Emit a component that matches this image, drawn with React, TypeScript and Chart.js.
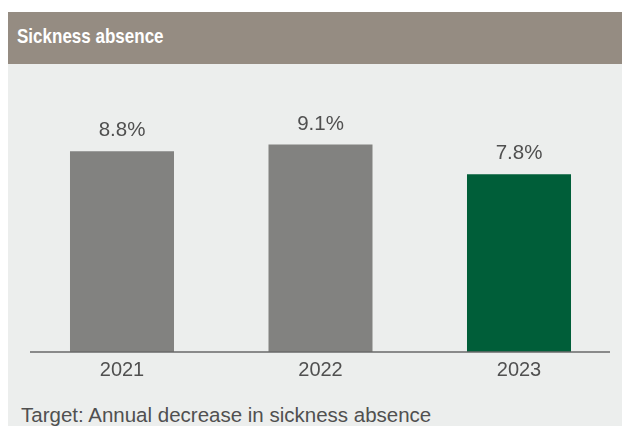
import React, { useEffect, useRef } from "react";
import { Chart, registerables } from "chart.js";

Chart.register(...registerables);

const categories: string[] = ["2021", "2022", "2023"];
const values: number[] = [8.8, 9.1, 7.8];
const valueLabels: string[] = ["8.8%", "9.1%", "7.8%"];
const barColors: string[] = ["#828280", "#828280", "#005e39"];
const yMax = 10;

const FONT = '"Liberation Sans", Arial, Helvetica, sans-serif';
const TEXT_COLOR = "#505050";

const valueLabelPlugin = {
  id: "valueLabels",
  afterDatasetsDraw(chart: any) {
    const { ctx, chartArea } = chart;
    const meta = chart.getDatasetMeta(0);
    ctx.save();
    // axis line
    ctx.strokeStyle = "#686868";
    ctx.lineWidth = 1.6;
    ctx.beginPath();
    ctx.moveTo(chartArea.left + 7.25, chartArea.bottom);
    ctx.lineTo(chartArea.right - 8.25, chartArea.bottom);
    ctx.stroke();
    // value labels
    ctx.fillStyle = TEXT_COLOR;
    ctx.font = `20.5px ${FONT}`;
    ctx.textAlign = "center";
    ctx.textBaseline = "alphabetic";
    meta.data.forEach((bar: any, i: number) => {
      ctx.fillText(valueLabels[i], bar.x, bar.y - 15);
    });
    ctx.restore();
  },
};

function BarChart() {
  const ref = useRef<HTMLCanvasElement | null>(null);
  useEffect(() => {
    if (!ref.current) return;
    const chart = new Chart(ref.current, {
      type: "bar",
      data: {
        labels: categories,
        datasets: [
          {
            data: values,
            backgroundColor: barColors,
            borderWidth: 0,
            barPercentage: 0.524,
            categoryPercentage: 1,
          },
        ],
      },
      options: {
        animation: false,
        responsive: true,
        maintainAspectRatio: false,
        layout: { padding: { left: 14.75, right: 3.75, top: 60, bottom: 0 } },
        plugins: {
          legend: { display: false },
          tooltip: { enabled: false },
          title: { display: false },
        },
        scales: {
          x: {
            grid: { display: false, drawTicks: false },
            border: { display: false },
            ticks: {
              color: TEXT_COLOR,
              font: { family: FONT, size: 20 },
              padding: 6,
            },
          },
          y: {
            display: false,
            min: 0,
            max: yMax,
          },
        },
      },
      plugins: [valueLabelPlugin],
    });
    return () => chart.destroy();
  }, []);
  return <canvas ref={ref} />;
}

export default function App() {
  return (
    <div style={{ position: "absolute", left: 0, top: 0, width: 622, height: 426, overflow: "hidden", background: "#ffffff" }}>
      <div
        style={{
          position: "absolute",
          left: 8,
          top: 12,
          width: 614,
          height: 52,
          background: "#958c82",
        }}
      >
        <div
          style={{
            position: "absolute",
            left: 9,
            top: 13,
            fontFamily: FONT,
            fontWeight: "bold",
            fontSize: 21,
            lineHeight: "21px",
            color: "#ffffff",
            whiteSpace: "nowrap",
            transform: "scaleX(0.81)",
            transformOrigin: "left top",
          }}
        >
          Sickness absence
        </div>
      </div>
      <div
        style={{
          position: "absolute",
          left: 8,
          top: 64,
          width: 614,
          height: 362,
          background: "#eceeed",
        }}
      >
        <div style={{ position: "absolute", left: 0, top: 0, width: 614, height: 324 }}>
          <BarChart />
        </div>
        <div
          style={{
            position: "absolute",
            left: 13,
            top: 341,
            fontFamily: FONT,
            fontSize: 20.5,
            lineHeight: "20px",
            color: TEXT_COLOR,
            whiteSpace: "nowrap",
          }}
        >
          Target: Annual decrease in sickness absence
        </div>
      </div>
    </div>
  );
}
